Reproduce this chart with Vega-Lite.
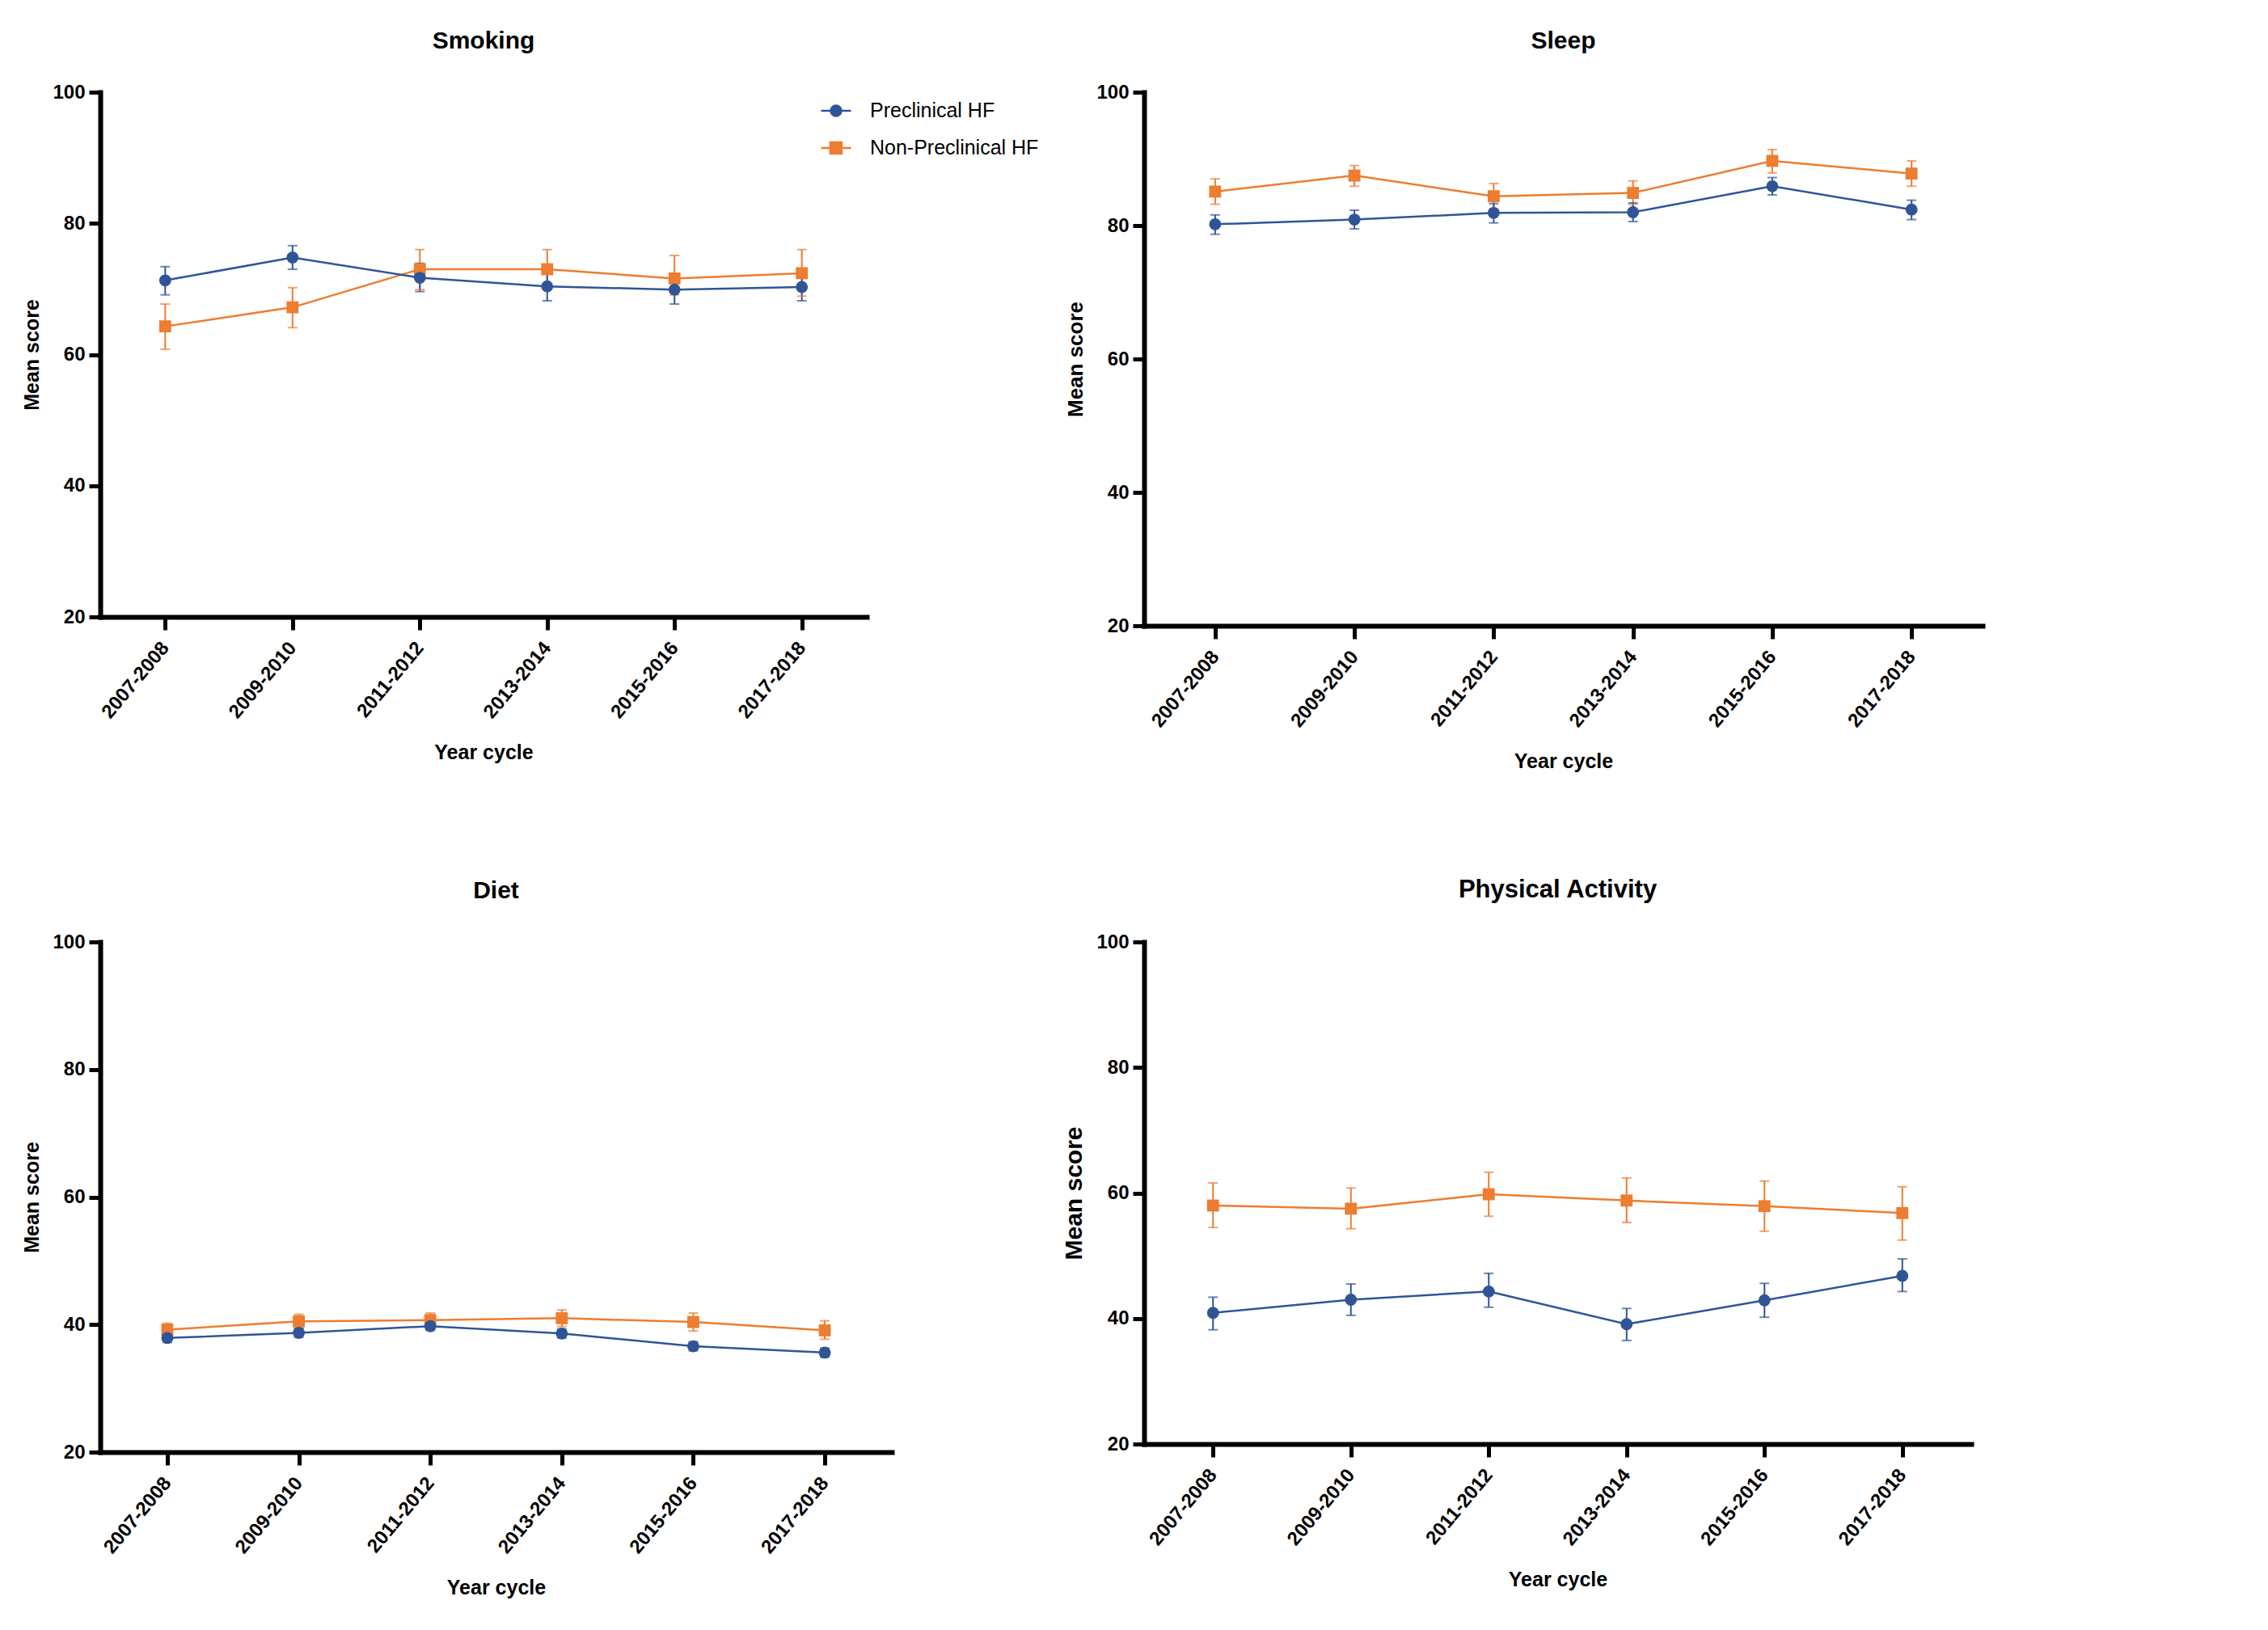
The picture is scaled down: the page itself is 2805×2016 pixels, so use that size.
{
  "$schema": "https://vega.github.io/schema/vega-lite/v6.json",
  "background": "white",
  "padding": {"left": 27, "top": 36, "right": 5, "bottom": 5},
  "data": {"values": [
    {"panel": "Smoking", "cycle": "2007-2008", "group": "Non-Preclinical HF", "mean": 64.3, "lo": 60.8, "hi": 67.7},
    {"panel": "Smoking", "cycle": "2009-2010", "group": "Non-Preclinical HF", "mean": 67.2, "lo": 64.1, "hi": 70.2},
    {"panel": "Smoking", "cycle": "2011-2012", "group": "Non-Preclinical HF", "mean": 73.0, "lo": 69.9, "hi": 76.0},
    {"panel": "Smoking", "cycle": "2013-2014", "group": "Non-Preclinical HF", "mean": 73.0, "lo": 70.0, "hi": 76.0},
    {"panel": "Smoking", "cycle": "2015-2016", "group": "Non-Preclinical HF", "mean": 71.6, "lo": 69.1, "hi": 75.1},
    {"panel": "Smoking", "cycle": "2017-2018", "group": "Non-Preclinical HF", "mean": 72.4, "lo": 68.9, "hi": 76.0},
    {"panel": "Smoking", "cycle": "2007-2008", "group": "Preclinical HF", "mean": 71.3, "lo": 69.1, "hi": 73.4},
    {"panel": "Smoking", "cycle": "2009-2010", "group": "Preclinical HF", "mean": 74.8, "lo": 73.0, "hi": 76.6},
    {"panel": "Smoking", "cycle": "2011-2012", "group": "Preclinical HF", "mean": 71.7, "lo": 69.6, "hi": 73.9},
    {"panel": "Smoking", "cycle": "2013-2014", "group": "Preclinical HF", "mean": 70.4, "lo": 68.2, "hi": 72.6},
    {"panel": "Smoking", "cycle": "2015-2016", "group": "Preclinical HF", "mean": 69.9, "lo": 67.7, "hi": 72.1},
    {"panel": "Smoking", "cycle": "2017-2018", "group": "Preclinical HF", "mean": 70.3, "lo": 68.2, "hi": 72.5},
    {"panel": "Sleep", "cycle": "2007-2008", "group": "Non-Preclinical HF", "mean": 85.1, "lo": 83.2, "hi": 87.0},
    {"panel": "Sleep", "cycle": "2009-2010", "group": "Non-Preclinical HF", "mean": 87.5, "lo": 85.9, "hi": 89.0},
    {"panel": "Sleep", "cycle": "2011-2012", "group": "Non-Preclinical HF", "mean": 84.4, "lo": 82.5, "hi": 86.3},
    {"panel": "Sleep", "cycle": "2013-2014", "group": "Non-Preclinical HF", "mean": 84.9, "lo": 83.2, "hi": 86.7},
    {"panel": "Sleep", "cycle": "2015-2016", "group": "Non-Preclinical HF", "mean": 89.7, "lo": 87.9, "hi": 91.4},
    {"panel": "Sleep", "cycle": "2017-2018", "group": "Non-Preclinical HF", "mean": 87.8, "lo": 85.9, "hi": 89.7},
    {"panel": "Sleep", "cycle": "2007-2008", "group": "Preclinical HF", "mean": 80.2, "lo": 78.7, "hi": 81.6},
    {"panel": "Sleep", "cycle": "2009-2010", "group": "Preclinical HF", "mean": 80.9, "lo": 79.5, "hi": 82.3},
    {"panel": "Sleep", "cycle": "2011-2012", "group": "Preclinical HF", "mean": 81.9, "lo": 80.4, "hi": 83.3},
    {"panel": "Sleep", "cycle": "2013-2014", "group": "Preclinical HF", "mean": 82.0, "lo": 80.6, "hi": 83.4},
    {"panel": "Sleep", "cycle": "2015-2016", "group": "Preclinical HF", "mean": 85.9, "lo": 84.6, "hi": 87.2},
    {"panel": "Sleep", "cycle": "2017-2018", "group": "Preclinical HF", "mean": 82.4, "lo": 80.9, "hi": 83.8},
    {"panel": "Diet", "cycle": "2007-2008", "group": "Non-Preclinical HF", "mean": 39.2, "lo": 38.3, "hi": 40.2},
    {"panel": "Diet", "cycle": "2009-2010", "group": "Non-Preclinical HF", "mean": 40.5, "lo": 39.4, "hi": 41.6},
    {"panel": "Diet", "cycle": "2011-2012", "group": "Non-Preclinical HF", "mean": 40.7, "lo": 39.6, "hi": 41.8},
    {"panel": "Diet", "cycle": "2013-2014", "group": "Non-Preclinical HF", "mean": 41.0, "lo": 39.7, "hi": 42.3},
    {"panel": "Diet", "cycle": "2015-2016", "group": "Non-Preclinical HF", "mean": 40.4, "lo": 39.0, "hi": 41.8},
    {"panel": "Diet", "cycle": "2017-2018", "group": "Non-Preclinical HF", "mean": 39.1, "lo": 37.7, "hi": 40.6},
    {"panel": "Diet", "cycle": "2007-2008", "group": "Preclinical HF", "mean": 37.9, "lo": 37.2, "hi": 38.6},
    {"panel": "Diet", "cycle": "2009-2010", "group": "Preclinical HF", "mean": 38.7, "lo": 38.0, "hi": 39.4},
    {"panel": "Diet", "cycle": "2011-2012", "group": "Preclinical HF", "mean": 39.75, "lo": 39.1, "hi": 40.4},
    {"panel": "Diet", "cycle": "2013-2014", "group": "Preclinical HF", "mean": 38.6, "lo": 37.9, "hi": 39.3},
    {"panel": "Diet", "cycle": "2015-2016", "group": "Preclinical HF", "mean": 36.6, "lo": 35.9, "hi": 37.3},
    {"panel": "Diet", "cycle": "2017-2018", "group": "Preclinical HF", "mean": 35.6, "lo": 34.9, "hi": 36.3},
    {"panel": "Physical Activity", "cycle": "2007-2008", "group": "Non-Preclinical HF", "mean": 58.0, "lo": 54.5, "hi": 61.6},
    {"panel": "Physical Activity", "cycle": "2009-2010", "group": "Non-Preclinical HF", "mean": 57.5, "lo": 54.3, "hi": 60.8},
    {"panel": "Physical Activity", "cycle": "2011-2012", "group": "Non-Preclinical HF", "mean": 59.8, "lo": 56.3, "hi": 63.3},
    {"panel": "Physical Activity", "cycle": "2013-2014", "group": "Non-Preclinical HF", "mean": 58.8, "lo": 55.3, "hi": 62.4},
    {"panel": "Physical Activity", "cycle": "2015-2016", "group": "Non-Preclinical HF", "mean": 57.9, "lo": 53.9, "hi": 61.9},
    {"panel": "Physical Activity", "cycle": "2017-2018", "group": "Non-Preclinical HF", "mean": 56.8, "lo": 52.5, "hi": 61.0},
    {"panel": "Physical Activity", "cycle": "2007-2008", "group": "Preclinical HF", "mean": 40.9, "lo": 38.2, "hi": 43.4},
    {"panel": "Physical Activity", "cycle": "2009-2010", "group": "Preclinical HF", "mean": 43.0, "lo": 40.5, "hi": 45.5},
    {"panel": "Physical Activity", "cycle": "2011-2012", "group": "Preclinical HF", "mean": 44.3, "lo": 41.8, "hi": 47.2},
    {"panel": "Physical Activity", "cycle": "2013-2014", "group": "Preclinical HF", "mean": 39.1, "lo": 36.5, "hi": 41.6},
    {"panel": "Physical Activity", "cycle": "2015-2016", "group": "Preclinical HF", "mean": 42.9, "lo": 40.2, "hi": 45.6},
    {"panel": "Physical Activity", "cycle": "2017-2018", "group": "Preclinical HF", "mean": 46.8, "lo": 44.3, "hi": 49.5}
  ]},
  "config": {
    "view": {"stroke": null},
    "font": "Liberation Sans",
    "axis": {
      "domainColor": "black", "domainWidth": 6, "domainCap": "square",
      "tickColor": "black", "tickWidth": 5,
      "labelFont": "Liberation Sans", "labelFontWeight": "bold", "labelFontSize": 24, "labelColor": "black",
      "titleFont": "Liberation Sans", "titleFontWeight": "bold", "titleColor": "black", "titleFontSize": 25,
      "grid": false
    },
    "axisX": {"tickSize": 16, "labelAngle": -50, "labelPadding": 18, "titlePadding": 26},
    "axisY": {"tickSize": 14, "labelPadding": 5, "titlePadding": 12},
    "title": {"fontSize": 30, "fontWeight": "bold", "font": "Liberation Sans", "color": "black", "frame": "group", "anchor": "middle", "baseline": "alphabetic", "offset": 36}
  },
  "columns": 2,
  "spacing": {"row": 130, "column": 28},
  "resolve": {"scale": {"color": "independent", "shape": "independent", "stroke": "independent", "x": "independent", "y": "independent"}},
  "concat": [
    {
      "title": {"text": "Smoking"},
      "width": 948, "height": 649,
      "transform": [{"filter": "datum.panel === 'Smoking'"}],
      "encoding": {
        "x": {"field": "cycle", "type": "ordinal", "title": "Year cycle", "scale": {"type": "point", "padding": 0.51}},
        "color": {"field": "group", "type": "nominal",
          "scale": {"domain": ["Preclinical HF", "Non-Preclinical HF"], "range": ["#2F5597", "#ED7D31"]},
          "legend": {"title": null, "orient": "none", "legendX": 890, "legendY": 3,
            "symbolSize": 1369, "symbolStrokeWidth": 2.5, "symbolOpacity": 1,
            "labelFontSize": 25, "labelFont": "Liberation Sans", "labelFontWeight": "normal", "labelColor": "black",
            "labelOffset": 22, "rowPadding": 13, "labelLimit": 500}
        }
      },
      "layer": [
        {"mark": {"type": "rule", "strokeWidth": 2}, "encoding": {"y": {"field": "lo", "type": "quantitative", "title": "Mean score", "scale": {"domain": [20, 100], "nice": false, "zero": false}, "axis": {"values": [20, 40, 60, 80, 100]}}, "y2": {"field": "hi"}}},
        {"mark": {"type": "tick", "thickness": 2, "size": 12}, "encoding": {"y": {"field": "lo", "type": "quantitative", "title": "Mean score"}}},
        {"mark": {"type": "tick", "thickness": 2, "size": 12}, "encoding": {"y": {"field": "hi", "type": "quantitative", "title": "Mean score"}}},
        {"mark": {"type": "line", "strokeWidth": 2.5}, "encoding": {"y": {"field": "mean", "type": "quantitative", "title": "Mean score"}}},
        {"mark": {"type": "point", "filled": true, "opacity": 1, "size": 220}, "encoding": {"y": {"field": "mean", "type": "quantitative", "title": "Mean score"}, "shape": {"condition": {"test": "datum.group === 'Preclinical HF'", "value": "circle"}, "value": "square"}}},
        {"transform": [{"filter": "false"}],
         "mark": {"type": "point", "filled": true, "opacity": 1, "strokeWidth": 2.5},
         "encoding": {
           "y": {"field": "mean", "type": "quantitative", "title": "Mean score"},
           "shape": {"field": "group", "type": "nominal", "scale": {"domain": ["Preclinical HF", "Non-Preclinical HF"], "range": ["M-1,0L1,0M0.35,0A0.35,0.35,0,1,1,-0.35,0A0.35,0.35,0,1,1,0.35,0Z", "M-1,0L1,0M-0.38,-0.38L0.38,-0.38L0.38,0.38L-0.38,0.38Z"]},
             "legend": {"title": null, "orient": "none", "legendX": 890, "legendY": 3, "symbolSize": 1369, "symbolStrokeWidth": 2.5, "symbolOpacity": 1, "labelFontSize": 25, "labelFont": "Liberation Sans", "labelFontWeight": "normal", "labelColor": "black", "labelOffset": 22, "rowPadding": 13, "labelLimit": 500}},
           "stroke": {"field": "group", "type": "nominal", "scale": {"domain": ["Preclinical HF", "Non-Preclinical HF"], "range": ["#2F5597", "#ED7D31"]},
             "legend": {"title": null, "orient": "none", "legendX": 890, "legendY": 3, "symbolSize": 1369, "symbolStrokeWidth": 2.5, "symbolOpacity": 1, "labelFontSize": 25, "labelFont": "Liberation Sans", "labelFontWeight": "normal", "labelColor": "black", "labelOffset": 22, "rowPadding": 13, "labelLimit": 500}}
         }}
      ]
    },
    {
      "title": {"text": "Sleep"},
      "width": 1037, "height": 660,
      "transform": [{"filter": "datum.panel === 'Sleep'"}],
      "encoding": {
        "x": {"field": "cycle", "type": "ordinal", "title": "Year cycle", "scale": {"type": "point", "padding": 0.51}},
        "color": {"field": "group", "type": "nominal", "scale": {"domain": ["Preclinical HF", "Non-Preclinical HF"], "range": ["#2F5597", "#ED7D31"]}, "legend": null}
      },
      "layer": [
        {"mark": {"type": "rule", "strokeWidth": 2}, "encoding": {"y": {"field": "lo", "type": "quantitative", "title": "Mean score", "scale": {"domain": [20, 100], "nice": false, "zero": false}, "axis": {"values": [20, 40, 60, 80, 100], "titleFontSize": 26}}, "y2": {"field": "hi"}}},
        {"mark": {"type": "tick", "thickness": 2, "size": 12}, "encoding": {"y": {"field": "lo", "type": "quantitative", "title": "Mean score"}}},
        {"mark": {"type": "tick", "thickness": 2, "size": 12}, "encoding": {"y": {"field": "hi", "type": "quantitative", "title": "Mean score"}}},
        {"mark": {"type": "line", "strokeWidth": 2.5}, "encoding": {"y": {"field": "mean", "type": "quantitative", "title": "Mean score"}}},
        {"mark": {"type": "point", "filled": true, "opacity": 1, "size": 220}, "encoding": {"y": {"field": "mean", "type": "quantitative", "title": "Mean score"}, "shape": {"condition": {"test": "datum.group === 'Preclinical HF'", "value": "circle"}, "value": "square"}}}
      ]
    },
    {
      "title": {"text": "Diet"},
      "width": 979, "height": 631,
      "transform": [{"filter": "datum.panel === 'Diet'"}],
      "encoding": {
        "x": {"field": "cycle", "type": "ordinal", "title": "Year cycle", "scale": {"type": "point", "padding": 0.51}},
        "color": {"field": "group", "type": "nominal", "scale": {"domain": ["Preclinical HF", "Non-Preclinical HF"], "range": ["#2F5597", "#ED7D31"]}, "legend": null}
      },
      "layer": [
        {"mark": {"type": "rule", "strokeWidth": 2}, "encoding": {"y": {"field": "lo", "type": "quantitative", "title": "Mean score", "scale": {"domain": [20, 100], "nice": false, "zero": false}, "axis": {"values": [20, 40, 60, 80, 100]}}, "y2": {"field": "hi"}}},
        {"mark": {"type": "tick", "thickness": 2, "size": 12}, "encoding": {"y": {"field": "lo", "type": "quantitative", "title": "Mean score"}}},
        {"mark": {"type": "tick", "thickness": 2, "size": 12}, "encoding": {"y": {"field": "hi", "type": "quantitative", "title": "Mean score"}}},
        {"mark": {"type": "line", "strokeWidth": 2.5}, "encoding": {"y": {"field": "mean", "type": "quantitative", "title": "Mean score"}}},
        {"mark": {"type": "point", "filled": true, "opacity": 1, "size": 220}, "encoding": {"y": {"field": "mean", "type": "quantitative", "title": "Mean score"}, "shape": {"condition": {"test": "datum.group === 'Preclinical HF'", "value": "circle"}, "value": "square"}}}
      ]
    },
    {
      "title": {"text": "Physical Activity", "fontSize": 31},
      "width": 1023, "height": 621,
      "transform": [{"filter": "datum.panel === 'Physical Activity'"}],
      "encoding": {
        "x": {"field": "cycle", "type": "ordinal", "title": "Year cycle", "scale": {"type": "point", "padding": 0.5}},
        "color": {"field": "group", "type": "nominal", "scale": {"domain": ["Preclinical HF", "Non-Preclinical HF"], "range": ["#2F5597", "#ED7D31"]}, "legend": null}
      },
      "layer": [
        {"mark": {"type": "rule", "strokeWidth": 2}, "encoding": {"y": {"field": "lo", "type": "quantitative", "title": "Mean score", "scale": {"domain": [20, 100], "nice": false, "zero": false}, "axis": {"values": [20, 40, 60, 80, 100], "titleFontSize": 30}}, "y2": {"field": "hi"}}},
        {"mark": {"type": "tick", "thickness": 2, "size": 12}, "encoding": {"y": {"field": "lo", "type": "quantitative", "title": "Mean score"}}},
        {"mark": {"type": "tick", "thickness": 2, "size": 12}, "encoding": {"y": {"field": "hi", "type": "quantitative", "title": "Mean score"}}},
        {"mark": {"type": "line", "strokeWidth": 2.5}, "encoding": {"y": {"field": "mean", "type": "quantitative", "title": "Mean score"}}},
        {"mark": {"type": "point", "filled": true, "opacity": 1, "size": 220}, "encoding": {"y": {"field": "mean", "type": "quantitative", "title": "Mean score"}, "shape": {"condition": {"test": "datum.group === 'Preclinical HF'", "value": "circle"}, "value": "square"}}}
      ]
    }
  ]
}
